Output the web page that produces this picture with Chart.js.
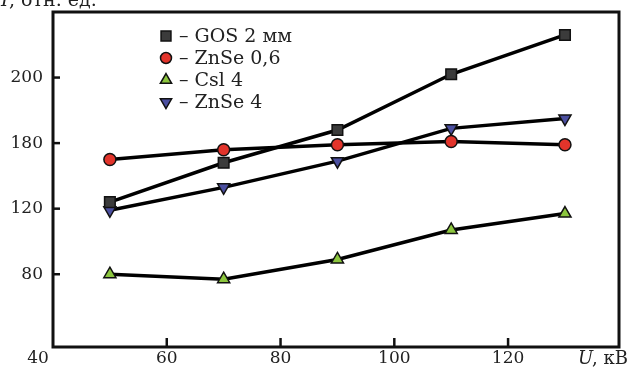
<!DOCTYPE html>
<html>
<head>
<meta charset="utf-8">
<script src="https://cdn.jsdelivr.net/npm/chart.js@4/dist/chart.umd.min.js"></script>
<style>
  html, body { margin: 0; padding: 0; background: #fff; }
  #wrap { width: 638px; height: 368px; position: relative; }
</style>
</head>
<body>
<div id="wrap"><canvas id="chart"></canvas></div>
<script>
// 데이터
const voltages = [50, 70, 90, 110, 130];
const gos2 = [124, 148, 168, 202, 226];
const znse06 = [150, 156, 159, 161, 159];
const csi4 = [80, 77, 89, 107, 117];
const znse4 = [119, 133, 149, 169, 175];

const seriesNames = ['GOS 2 мм', 'ZnSe 0,6', 'Csl 4', 'ZnSe 4'];
const xTicks = [40, 60, 80, 100, 120];
const yTicks = [80, 120, 160, 200];
const yTickLabels = ['80', '120', '180', '200'];

const serif = '"DejaVu Serif", "Liberation Serif", serif';

function toPoints(arr) {
    return voltages.map((v, i) => ({ x: v, y: arr[i] }));
}

function makeSet(label, data, style, color, size, rotation) {
    return {
        label: label,
        data: toPoints(data),
        borderColor: '#000',
        borderWidth: 3.5,
        pointStyle: style,
        pointRadius: size,
        pointRotation: rotation || 0,
        pointBackgroundColor: color,
        pointBorderColor: '#111',
        pointBorderWidth: 1.5,
        tension: 0,
        fill: false
    };
}

// 테두리, 눈금, 범례, 축 제목
const framePlugin = {
    id: 'frame',
    afterDatasetsDraw(chart) {
        const ctx = chart.ctx;
        const a = chart.chartArea;
        const xs = chart.scales.x, ys = chart.scales.y;
        ctx.save();
        ctx.strokeStyle = '#111';
        ctx.lineWidth = 3;
        ctx.strokeRect(a.left, a.top, a.right - a.left, a.bottom - a.top);

        ctx.lineWidth = 2.5;
        yTicks.forEach(v => {
            const y = ys.getPixelForValue(v);
            ctx.beginPath(); ctx.moveTo(a.left, y); ctx.lineTo(a.left + 7, y); ctx.stroke();
        });
        xTicks.slice(1).forEach(v => {
            const x = xs.getPixelForValue(v);
            ctx.beginPath(); ctx.moveTo(x, a.bottom); ctx.lineTo(x, a.bottom - 9); ctx.stroke();
        });

        // 축 제목
        ctx.fillStyle = '#222';
        ctx.textBaseline = 'alphabetic';
        ctx.textAlign = 'left';
        ctx.font = 'italic 19px ' + serif;
        ctx.fillText('I', 1, 6);
        ctx.font = '19px ' + serif;
        ctx.fillText(', отн. ед.', 9, 6);

        ctx.font = 'italic 18px ' + serif;
        ctx.fillText('U', 578, 364);
        ctx.font = '18px ' + serif;
        ctx.fillText(', кВ', 592, 364);

        // 범례
        const rows = [36, 58, 80, 102];
        chart.data.datasets.forEach((ds, i) => {
            const y = rows[i];
            ctx.save();
            ctx.fillStyle = ds.pointBackgroundColor;
            ctx.strokeStyle = '#111';
            ctx.lineWidth = 1.5;
            Chart.helpers.drawPoint(ctx, {
                pointStyle: ds.pointStyle,
                radius: ds.pointRadius - 0.5,
                rotation: ds.pointRotation,
                borderWidth: 1.5
            }, 166, y);
            ctx.restore();
            ctx.fillStyle = '#222';
            ctx.font = '19px ' + serif;
            ctx.textBaseline = 'middle';
            ctx.fillText('– ' + ds.label, 179, y + 1);
        });
        ctx.restore();
    }
};

new Chart(document.getElementById('chart'), {
    type: 'line',
    data: {
        datasets: [
            makeSet(seriesNames[0], gos2, 'rect', '#3b3b3b', 7.5),
            makeSet(seriesNames[1], znse06, 'circle', '#e2342b', 6),
            makeSet(seriesNames[2], csi4, 'triangle', '#8cc63e', 7),
            makeSet(seriesNames[3], znse4, 'triangle', '#4b4fa0', 7, 180)
        ]
    },
    options: {
        responsive: true,
        maintainAspectRatio: false,
        animation: false,
        layout: { padding: { top: 12, right: 19, left: 0, bottom: 0 } },
        plugins: {
            legend: { display: false },
            tooltip: { enabled: false }
        },
        scales: {
            x: {
                type: 'linear',
                min: 40,
                max: 139.5,
                afterBuildTicks: s => { s.ticks = xTicks.map(v => ({ value: v })); },
                afterFit: s => { s.height = 21; s.paddingLeft = 0; s.paddingRight = 0; },
                grid: { display: false, drawTicks: false },
                border: { display: false },
                ticks: {
                    color: '#222',
                    font: { family: serif, size: 17 },
                    padding: 1,
                    callback: v => (v === 40 ? '' : String(v))
                }
            },
            y: {
                min: 35.6,
                max: 240,
                afterBuildTicks: s => { s.ticks = yTicks.map(v => ({ value: v })); },
                afterFit: s => { s.width = 53; s.paddingTop = 0; s.paddingBottom = 0; },
                grid: { display: false, drawTicks: false },
                border: { display: false },
                ticks: {
                    color: '#222',
                    font: { family: serif, size: 17 },
                    padding: 10,
                    callback: v => yTickLabels[yTicks.indexOf(v)]
                }
            }
        }
    },
    plugins: [framePlugin, {
        id: 'fortyLabel',
        afterDraw(chart) {
            const ctx = chart.ctx;
            ctx.save();
            ctx.fillStyle = '#222';
            ctx.font = '17px ' + serif;
            ctx.textAlign = 'center';
            ctx.textBaseline = 'alphabetic';
            ctx.fillText('40', 38, 363);
            ctx.restore();
        }
    }]
});
</script>
</body>
</html>
